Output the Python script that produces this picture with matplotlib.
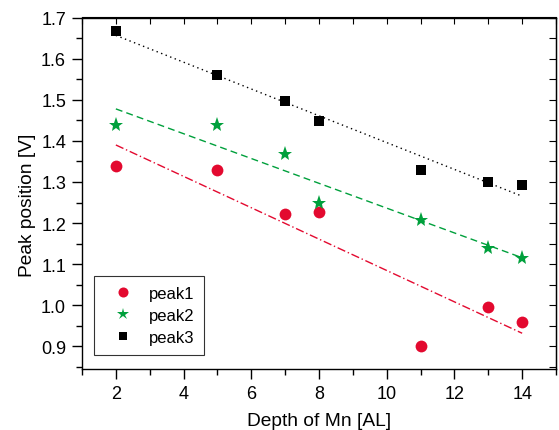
import numpy as np
import matplotlib
matplotlib.use("Agg")
import matplotlib.pyplot as plt
from matplotlib.ticker import MultipleLocator

depth = [2, 5, 7, 8, 11, 13, 14]
peak1 = [1.338, 1.328, 1.222, 1.227, 0.902, 0.997, 0.960]
peak2 = [1.439, 1.439, 1.367, 1.250, 1.207, 1.140, 1.114]
peak3 = [1.667, 1.561, 1.498, 1.448, 1.329, 1.300, 1.293]
series_names = ["peak1", "peak2", "peak3"]

plt.rcParams['font.family'] = ['Liberation Sans', 'DejaVu Sans']

fig = plt.figure(figsize=(5.59, 4.31), dpi=100)
ax = fig.add_axes([82/559, 61/431, 474/559, 351.5/431])

red = '#E3092F'
green = '#00A03C'
black = '#000000'

x = np.array(depth, dtype=float)
styles = [
    (peak1, red, 'o', 8.5, (0, (6, 2, 1, 2)), series_names[0]),
    (peak2, green, '*', 11, (0, (5, 3)), series_names[1]),
    (peak3, black, 's', 7.5, (0, (1, 2.5)), series_names[2]),
]
handles = []
for ys, c, m, ms, ls, name in styles:
    ys = np.array(ys)
    h, = ax.plot(x, ys, linestyle='none', marker=m, color=c, markersize=ms,
                 markeredgewidth=0, label=name)
    handles.append(h)
    k, b = np.polyfit(x, ys, 1)
    xx = np.array([x.min(), x.max()])
    ax.plot(xx, k*xx + b, color=c, linestyle=ls, linewidth=1.0)

ax.set_xlim(1, 15)
ax.set_ylim(0.845, 1.7)
ax.xaxis.set_major_locator(MultipleLocator(2))
ax.xaxis.set_minor_locator(MultipleLocator(1))
ax.yaxis.set_major_locator(MultipleLocator(0.1))
ax.yaxis.set_minor_locator(MultipleLocator(0.05))
ax.tick_params(which='both', direction='out', top=False, right=False, labelsize=13, width=1, pad=4)
ax.tick_params(which='major', length=7.5)
ax.tick_params(which='minor', length=4)
ax.yaxis.set_major_formatter(plt.FuncFormatter(lambda v, p: f"{v:.1f}"))

# inward ticks on top and right
secx = ax.secondary_xaxis('top')
secx.xaxis.set_major_locator(MultipleLocator(1))
secx.tick_params(direction='in', length=5, labeltop=False)
secy = ax.secondary_yaxis('right')
secy.yaxis.set_major_locator(MultipleLocator(0.05))
secy.tick_params(direction='in', length=5, labelright=False)

for s in ax.spines.values():
    s.set_linewidth(1.0)

ax.set_xlabel("Depth of Mn [AL]", fontsize=13.8, labelpad=7)
ax.set_ylabel("Peak position [V]", fontsize=13.8)
ax.yaxis.set_label_coords(-0.097, 0.469)

leg = ax.legend(handles=handles, loc='lower left', bbox_to_anchor=(0.025, 0.04),
                borderaxespad=0, markerscale=0.85,
                fontsize=12, frameon=True, fancybox=False, edgecolor='black',
                borderpad=0.6, handletextpad=0.4, labelspacing=0.42, handlelength=2.3)
leg.get_frame().set_linewidth(0.8)

fig.savefig("out.png", dpi=100)
